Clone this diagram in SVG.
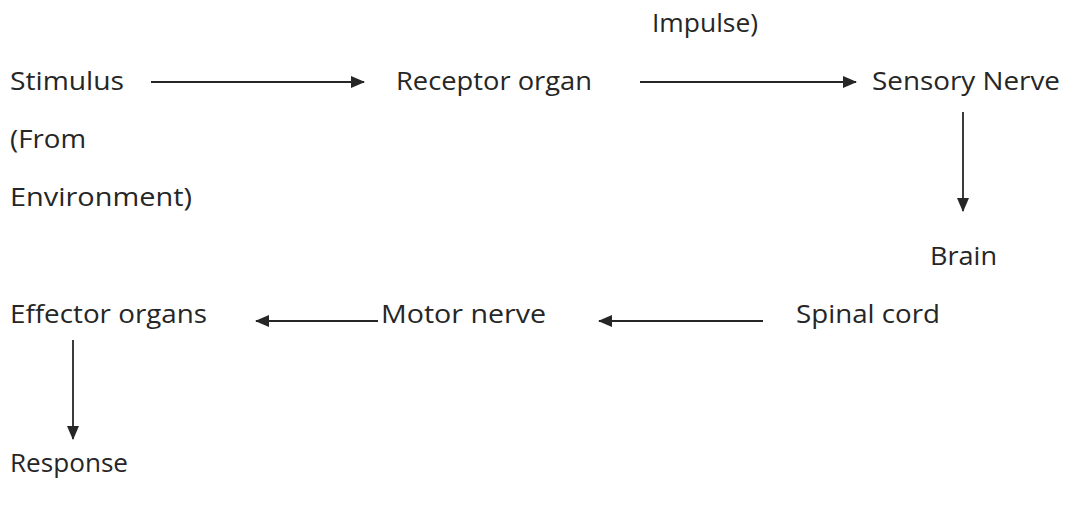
<svg xmlns="http://www.w3.org/2000/svg" width="1067" height="506" viewBox="0 0 1067 506">
<style>
text{font-family:"Open Sans","Liberation Sans",sans-serif;font-size:25px;fill:#262626}
.c line{stroke:#262626;stroke-width:1.8}
</style>
<defs>
<marker id="ah" viewBox="0 0 14 12" refX="13" refY="6" markerWidth="14" markerHeight="12" markerUnits="userSpaceOnUse" orient="auto">
<path d="M0,0 L14,6 L0,12 Z" fill="#262626"/>
</marker>
</defs>
<rect width="1067" height="506" fill="#fff"/>
<g id="impulse"><text x="652" y="32" textLength="106" lengthAdjust="spacingAndGlyphs">Impulse)</text></g>
<g id="stimulus">
<text x="10" y="90" textLength="114" lengthAdjust="spacingAndGlyphs">Stimulus</text>
<text x="10" y="148" textLength="76" lengthAdjust="spacingAndGlyphs">(From</text>
<text x="10" y="206" textLength="182" lengthAdjust="spacingAndGlyphs">Environment)</text>
</g>
<g id="receptor"><text x="396" y="90" textLength="196" lengthAdjust="spacingAndGlyphs">Receptor organ</text></g>
<g id="sensory"><text x="872" y="90" textLength="188" lengthAdjust="spacingAndGlyphs">Sensory Nerve</text></g>
<g id="brain"><text x="930" y="265" textLength="67" lengthAdjust="spacingAndGlyphs">Brain</text></g>
<g id="spinal"><text x="796" y="323" textLength="144" lengthAdjust="spacingAndGlyphs">Spinal cord</text></g>
<g id="motor"><text x="381" y="323" textLength="165" lengthAdjust="spacingAndGlyphs">Motor nerve</text></g>
<g id="effector"><text x="10" y="323" textLength="197" lengthAdjust="spacingAndGlyphs">Effector organs</text></g>
<g id="response"><text x="10" y="472" textLength="118" lengthAdjust="spacingAndGlyphs">Response</text></g>
<g id="connectors" class="c">
<line x1="151" y1="82" x2="364" y2="82" marker-end="url(#ah)"/>
<line x1="640" y1="82" x2="856" y2="82" marker-end="url(#ah)"/>
<line x1="963" y1="112" x2="963" y2="211" marker-end="url(#ah)"/>
<line x1="763" y1="321" x2="599" y2="321" marker-end="url(#ah)"/>
<line x1="378" y1="321" x2="256" y2="321" marker-end="url(#ah)"/>
<line x1="73" y1="340" x2="73" y2="439" marker-end="url(#ah)"/>
</g>
</svg>
